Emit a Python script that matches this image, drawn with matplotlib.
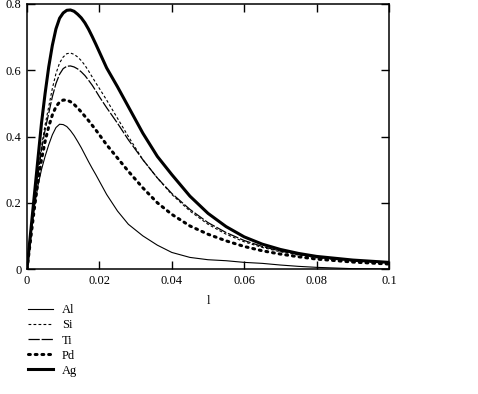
import matplotlib
matplotlib.use("Agg")
import matplotlib.pyplot as plt

plt.rcParams['font.family'] = ['Liberation Serif', 'DejaVu Serif']

# values
l = [0, 0.001, 0.002, 0.003, 0.004, 0.005, 0.006, 0.007, 0.008, 0.009,
     0.010, 0.011, 0.012, 0.013, 0.014, 0.015, 0.016, 0.017, 0.018, 0.019,
     0.020, 0.022, 0.025, 0.028, 0.032, 0.036, 0.040, 0.045, 0.050, 0.055,
     0.060, 0.065, 0.070, 0.075, 0.080, 0.090, 0.100]

al = [0, 0.095, 0.185, 0.25, 0.30, 0.34, 0.375, 0.405, 0.427, 0.437,
      0.436, 0.43, 0.418, 0.403, 0.385, 0.366, 0.345, 0.324, 0.304, 0.285,
      0.265, 0.225, 0.175, 0.135, 0.10, 0.072, 0.05, 0.035, 0.028, 0.025,
      0.02, 0.017, 0.012, 0.008, 0.005, 0.001, 0]
si = [0, 0.10, 0.20, 0.29, 0.37, 0.435, 0.49, 0.545, 0.59, 0.622,
      0.64, 0.65, 0.652, 0.648, 0.64, 0.629, 0.615, 0.598, 0.58, 0.562,
      0.545, 0.51, 0.455, 0.40, 0.33, 0.275, 0.225, 0.175, 0.135, 0.105,
      0.082, 0.065, 0.052, 0.042, 0.034, 0.024, 0.018]
ti = [0, 0.095, 0.19, 0.28, 0.36, 0.42, 0.47, 0.52, 0.56, 0.588,
      0.605, 0.612, 0.613, 0.61, 0.604, 0.595, 0.584, 0.57, 0.555, 0.538,
      0.52, 0.487, 0.44, 0.39, 0.33, 0.275, 0.228, 0.18, 0.14, 0.11,
      0.086, 0.068, 0.054, 0.044, 0.035, 0.025, 0.019]
pd_ = [0, 0.09, 0.18, 0.26, 0.33, 0.385, 0.43, 0.465, 0.49, 0.504,
       0.51, 0.51, 0.505, 0.497, 0.486, 0.474, 0.461, 0.448, 0.434, 0.42,
       0.405, 0.375, 0.335, 0.295, 0.245, 0.20, 0.165, 0.13, 0.105, 0.085,
       0.068, 0.055, 0.045, 0.037, 0.03, 0.021, 0.015]
ag = [0, 0.11, 0.22, 0.33, 0.44, 0.53, 0.61, 0.675, 0.725, 0.757,
      0.773, 0.781, 0.782, 0.778, 0.769, 0.758, 0.743, 0.724, 0.702, 0.679,
      0.655, 0.607, 0.55, 0.49, 0.41, 0.34, 0.285, 0.22, 0.168, 0.128,
      0.097, 0.075, 0.059, 0.047, 0.038, 0.027, 0.02]

xticks = [0, 0.02, 0.04, 0.06, 0.08, 0.1]
xticklabels = ['0', '0.02', '0.04', '0.06', '0.08', '0.1']
yticks = [0, 0.2, 0.4, 0.6, 0.8]
yticklabels = ['0', '0.2', '0.4', '0.6', '0.8']

fig = plt.figure(figsize=(4.78, 3.94), dpi=100)
ax = fig.add_axes([27/478, 1-269/394, (389-27)/478, (269-4)/394])

ax.plot(l, al, color='black', lw=0.8, label='Al')
ax.plot(l, si, color='black', lw=0.8, dashes=(2.5, 2), label='Si')
ax.plot(l, ti, color='black', lw=0.9, dashes=(9, 1.5), label='Ti')
ax.plot(l, pd_, color='black', lw=2.2, linestyle=(0, (0.6, 1.6)),
        dash_capstyle='round', label='Pd')
ax.plot(l, ag, color='black', lw=2.2, label='Ag')

ax.set_xlim(0, 0.1)
ax.set_ylim(0, 0.8)
ax.set_xticks(xticks)
ax.set_xticklabels(xticklabels)
ax.set_yticks(yticks)
ax.set_yticklabels(yticklabels)
ax.tick_params(direction='in', length=6, width=1, top=True, right=True,
               labelsize=9, pad=4, colors='black')
for s in ax.spines.values():
    s.set_linewidth(1.1)
ax.set_xlabel('l', fontsize=9, labelpad=6)

ax.legend(loc='upper left', bbox_to_anchor=(22/478, 1-298/394),
          bbox_transform=fig.transFigure, frameon=False, fontsize=9,
          handlelength=2.0, handletextpad=0.7, labelspacing=0.25,
          borderpad=0)

fig.savefig('out.png', dpi=100)
